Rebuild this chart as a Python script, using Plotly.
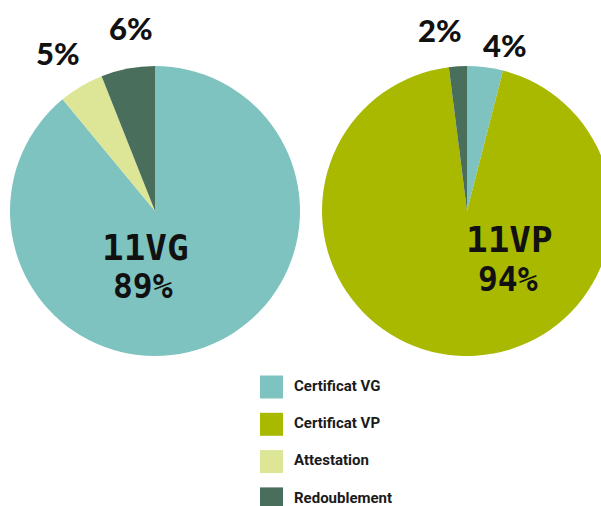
import plotly.graph_objects as go

# Outcome shares per class (percent)
classes = ["11VG", "11VP"]
labels_11vg = ["Certificat VG", "Attestation", "Redoublement"]
values_11vg = [89, 5, 6]
labels_11vp = ["Certificat VG", "Certificat VP", "Redoublement"]
values_11vp = [4, 94, 2]

legend_labels = ["Certificat VG", "Certificat VP", "Attestation", "Redoublement"]

colors = {
    "Certificat VG": "#7FC3C0",
    "Certificat VP": "#A8B900",
    "Attestation": "#DDE696",
    "Redoublement": "#4A6E5C",
}

W, H = 612, 506
big_font = "Lato, 'Open Sans', sans-serif"
mono_font = "'DejaVu Sans Mono', monospace"
legend_font = "Roboto, 'Liberation Sans', sans-serif"


def px_x(x):
    return x / W


def px_y(y):
    return 1 - y / H


fig = go.Figure()

pie_boxes = [(10, 300), (322, 612)]  # horizontal pixel extents of each pie
for (labels, values), (x0, x1) in zip(
    [(labels_11vg, values_11vg), (labels_11vp, values_11vp)], pie_boxes
):
    fig.add_trace(
        go.Pie(
            labels=labels,
            values=values,
            sort=False,
            direction="clockwise",
            rotation=0,
            marker=dict(colors=[colors[l] for l in labels], line=dict(width=0)),
            textinfo="none",
            hoverinfo="label+percent",
            showlegend=False,
            domain=dict(x=[px_x(x0), px_x(x1)], y=[px_y(356), px_y(66)]),
        )
    )

# Legend: square swatches plus bold labels
leg_top, leg_step = 387, 37.3
leg_rows = list(range(len(legend_labels)))
fig.add_trace(
    go.Scatter(
        x=[271.5] * len(legend_labels),
        y=leg_rows,
        mode="markers",
        marker=dict(symbol="square", size=23,
                    color=[colors[l] for l in legend_labels], line=dict(width=0)),
        cliponaxis=False,
        showlegend=False,
        hoverinfo="skip",
    )
)
fig.add_trace(
    go.Scatter(
        x=[294] * len(legend_labels),
        y=leg_rows,
        mode="text",
        text=legend_labels,
        textposition="middle right",
        textfont=dict(family=legend_font, size=15, color="#1a1a1a", weight="bold"),
        cliponaxis=False,
        showlegend=False,
        hoverinfo="skip",
    )
)

fig.update_xaxes(range=[0, W], domain=[0, 1], visible=False, fixedrange=True)
fig.update_yaxes(
    range=[(H - leg_top) / leg_step, (360 - leg_top) / leg_step],
    domain=[0, (H - 360) / H],
    visible=False,
    fixedrange=True,
)

annotations = []
# Small-slice percentages above each pie
small_labels = [
    (values_11vg[2], 131, 28),
    (values_11vg[1], 58, 53),
    (values_11vp[2], 440, 30),
    (values_11vp[0], 505, 45),
]
for v, x, y in small_labels:
    annotations.append(dict(
        text=f"{v}%", x=px_x(x), y=px_y(y), xref="paper", yref="paper",
        showarrow=False,
        font=dict(family=big_font, size=31, color="#111111", weight=900),
        xanchor="center", yanchor="middle",
    ))

# Class name and main share inside each pie
center_labels = [
    (classes[0], values_11vg[0], 145, 247, 143, 286),
    (classes[1], values_11vp[1], 509, 240, 508, 279),
]
for name, v, nx, ny, vx, vy in center_labels:
    annotations.append(dict(
        text=f"<b>{name}</b>", x=px_x(nx), y=px_y(ny), xref="paper", yref="paper",
        showarrow=False, font=dict(family=mono_font, size=36, color="#111111"),
        xanchor="center", yanchor="middle",
    ))
    annotations.append(dict(
        text=f"<b>{v}%</b>", x=px_x(vx), y=px_y(vy), xref="paper", yref="paper",
        showarrow=False, font=dict(family=mono_font, size=33, color="#111111"),
        xanchor="center", yanchor="middle",
    ))

fig.update_layout(
    width=W,
    height=H,
    margin=dict(l=0, r=0, t=0, b=0),
    paper_bgcolor="white",
    plot_bgcolor="rgba(0,0,0,0)",
    annotations=annotations,
    showlegend=False,
)

fig.write_html(
    "out.html",
    post_script="document.documentElement.style.overflow='hidden';"
                "document.body.style.overflow='hidden';"
                "document.body.style.margin='0';",
)
